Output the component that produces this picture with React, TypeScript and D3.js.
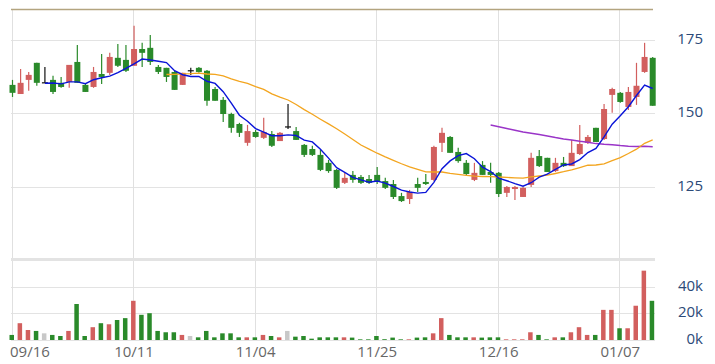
import React from 'react';
import * as d3 from 'd3';

// tick labels on the date axis (bar index -> label)
const tickIdx = [0, 15, 30, 45, 60, 75];
const tickLabels = ['09/16', '10/11', '11/04', '11/25', '12/16', '01/07'];
const priceTicks = [125, 150, 175];
const volTicks = [0, 20000, 40000];

const open = [
  159.7, 156.6, 161.4, 167.2, 160.4, 161.4, 160.4, 160.7, 167.5, 159.7,
  159.0, 163.4, 163.8, 168.9, 168.2, 166.2, 171.9, 172.3, 165.8, 165.5,
  164.1, 159.7, 164.5, 165.5, 164.5, 158.3, 154.6, 149.8, 146.4, 140.0,
  143.7, 141.7, 143.0, 140.6, 145.4, 144.0, 139.3, 137.9, 135.9, 133.2,
  130.8, 126.4, 129.1, 128.4, 127.7, 129.1, 127.0, 126.0, 121.9, 120.9,
  126.0, 126.7, 127.4, 140.0, 142.0, 136.9, 133.2, 127.4, 132.5, 130.1,
  129.8, 123.0, 124.3, 121.6, 125.7, 135.5, 134.9, 130.4, 133.2, 132.1,
  136.2, 140.0, 145.1, 141.3, 156.3, 157.0, 152.2, 155.6, 164.1, 168.9,
];
const high = [
  161.4, 165.1, 164.1, 167.2, 165.8, 162.8, 162.4, 166.5, 173.3, 160.0,
  165.8, 170.2, 170.6, 173.6, 173.3, 179.8, 174.0, 176.7, 166.5, 165.5,
  164.4, 163.8, 165.5, 165.8, 164.8, 159.0, 155.6, 150.2, 146.8, 146.1,
  144.4, 148.5, 144.0, 143.7, 153.2, 145.4, 139.6, 139.0, 137.6, 134.2,
  131.1, 129.8, 130.4, 129.1, 129.1, 131.8, 128.1, 127.4, 123.0, 124.0,
  128.1, 129.4, 139.0, 145.1, 142.3, 138.3, 134.2, 133.2, 133.8, 133.2,
  130.1, 125.3, 125.3, 125.0, 136.6, 137.6, 134.9, 134.9, 135.2, 141.0,
  146.1, 142.7, 145.1, 153.2, 158.7, 157.3, 159.0, 167.2, 174.0, 169.2,
];
const low = [
  155.6, 156.6, 157.7, 159.4, 160.4, 156.6, 158.7, 158.7, 160.4, 157.3,
  158.7, 160.0, 163.1, 165.8, 164.1, 166.2, 165.8, 166.5, 163.4, 160.7,
  158.0, 159.7, 163.1, 163.8, 152.6, 154.3, 147.1, 143.4, 142.0, 139.0,
  141.7, 141.3, 138.6, 140.6, 144.7, 141.0, 135.2, 135.5, 130.4, 129.8,
  124.3, 126.0, 126.4, 126.0, 126.0, 126.0, 124.3, 120.9, 119.9, 119.2,
  123.3, 125.7, 127.0, 136.9, 136.6, 133.2, 129.1, 127.0, 129.1, 126.4,
  121.6, 121.6, 120.6, 121.6, 125.0, 131.8, 130.1, 130.1, 131.8, 132.1,
  135.9, 139.6, 140.3, 141.0, 150.2, 153.6, 151.2, 152.9, 163.8, 152.6,
];
const close = [
  157.0, 160.4, 163.1, 160.4, 160.4, 157.3, 159.0, 166.5, 160.4, 157.3,
  164.1, 162.4, 169.2, 166.2, 164.5, 171.9, 170.6, 167.5, 164.1, 162.4,
  158.0, 163.8, 164.5, 164.1, 154.3, 154.3, 149.8, 145.1, 143.4, 144.0,
  142.0, 143.7, 139.0, 143.4, 145.4, 141.0, 135.9, 135.9, 130.8, 130.4,
  124.7, 128.1, 127.4, 126.4, 126.4, 126.7, 124.7, 121.6, 120.2, 123.3,
  124.7, 126.0, 138.6, 143.4, 136.6, 133.8, 129.4, 129.8, 129.1, 129.1,
  122.6, 125.0, 125.0, 124.7, 134.9, 132.1, 130.1, 133.2, 132.1, 136.6,
  139.6, 142.0, 140.3, 151.5, 158.3, 153.9, 157.3, 159.4, 169.2, 152.6,
];
const volume = [
  3800, 12600, 7500, 6800, 5000, 3800, 3000, 6800, 27000, 3000,
  9600, 12600, 11800, 15000, 16400, 29400, 18900, 20100, 6800, 5800,
  5800, 3800, 3000, 2000, 6800, 2000, 5000, 5000, 2000, 2000,
  2000, 3800, 3000, 2000, 6800, 2500, 3000, 1000, 2000, 2000,
  2000, 2000, 1800, 500, 500, 3000, 600, 1800, 500, 500,
  1800, 2000, 5000, 16400, 3800, 2000, 2000, 2000, 1800, 2000,
  2000, 500, 500, 500, 5800, 3800, 500, 2000, 2000, 5800,
  9600, 3800, 3800, 22600, 22600, 8800, 8800, 25700, 52000, 29400,
];

const UP = '#d25f5e';
const DOWN = '#2a8a2a';
const FLAT = '#c8c8c8';

const movingAvg = (n: number) =>
  close.map((_, i) => (i < n - 1 ? null : d3.mean(close.slice(i - n + 1, i + 1)) as number));

const ma5 = movingAvg(5);
const ma20 = movingAvg(20);
const ma60 = movingAvg(60);

export default function App() {
  const left = 11, right = 655;
  const x = d3.scaleLinear().domain([0, close.length - 1]).range([12.5, 652.7]);
  const y = d3.scaleLinear().domain([100.85, 185.5]).range([258, 9]);
  const yv = d3.scaleLinear().domain([0, 60000]).range([340, 260]);

  const maLine = d3.line<number | null>()
    .defined(d => d != null)
    .x((_, i) => x(i))
    .y(d => y(d as number));

  const font = '"Open Sans", sans-serif';

  return (
    <svg width={715} height={364} style={{ position: 'absolute', left: 0, top: 0 }}>
      <rect width={715} height={364} fill="#fff" />
      {/* grid */}
      {priceTicks.map(t => (
        <line key={'pg' + t} x1={left} x2={right} y1={Math.round(y(t)) + 0.5} y2={Math.round(y(t)) + 0.5} stroke="#e3e3e3" />
      ))}
      {volTicks.map(t => (
        <line key={'vg' + t} x1={left} x2={right} y1={Math.round(yv(t)) + 0.5} y2={Math.round(yv(t)) + 0.5} stroke="#e3e3e3" />
      ))}
      {tickIdx.map(i => {
        const gx = Math.round(x(i)) - 0.5;
        return (
          <g key={'vx' + i}>
            <line x1={gx} x2={gx} y1={9} y2={258} stroke="#e0e0e0" />
            <line x1={gx} x2={gx} y1={261} y2={340} stroke="#e0e0e0" />
          </g>
        );
      })}
      <rect x={left} y={258} width={right - left} height={3} fill="#e3e3e3" />
      <line x1={left} x2={653} y1={9.5} y2={9.5} stroke="#b3a47f" strokeWidth={1.5} />

      {/* volume */}
      {volume.map((v, i) => {
        const c = close[i] > open[i] ? UP : close[i] < open[i] ? DOWN : FLAT;
        return <rect key={'v' + i} x={x(i) - 3} y={yv(v)} width={4.5} height={yv(0) - yv(v)} fill={c} />;
      })}

      {/* candles */}
      {close.map((c, i) => {
        const o = open[i];
        const cx = x(i);
        if (c === o) {
          return (
            <g key={'c' + i} stroke="#111" strokeWidth={1.2}>
              <line x1={cx} x2={cx} y1={y(high[i])} y2={y(low[i])} />
              <line x1={cx - 3} x2={cx + 3} y1={y(o)} y2={y(o)} />
            </g>
          );
        }
        const col = c > o ? UP : DOWN;
        const top = y(Math.max(o, c));
        const h = Math.max(1, Math.abs(y(o) - y(c)));
        return (
          <g key={'c' + i}>
            <line x1={cx} x2={cx} y1={y(high[i])} y2={y(low[i])} stroke={col} strokeWidth={1.2} />
            <rect x={cx - 3} y={top} width={6} height={h} fill={col} />
          </g>
        );
      })}

      {/* moving averages */}
      <path d={maLine(ma60) || ''} fill="none" stroke="#9a35c8" strokeWidth={1.5} />
      <path d={maLine(ma20) || ''} fill="none" stroke="#f3a51f" strokeWidth={1.3} />
      <path d={maLine(ma5) || ''} fill="none" stroke="#0a14d8" strokeWidth={1.4} />

      {/* axis labels */}
      {priceTicks.map(t => (
        <text key={'pl' + t} x={703} y={y(t)} textAnchor="end" dominantBaseline="middle"
          fontFamily={font} fontSize={15} fill="#2c4a78">{t}</text>
      ))}
      {volTicks.map(t => (
        <text key={'vl' + t} x={703} y={yv(t)} textAnchor="end" dominantBaseline="middle"
          fontFamily={font} fontSize={15} fill="#2c4a78">{t / 1000 + 'k'}</text>
      ))}
      {tickIdx.map((i, k) => (
        <text key={'xl' + i} x={k === 0 ? 10 : x(i)} y={357} textAnchor={k === 0 ? 'start' : 'middle'}
          fontFamily={font} fontSize={15} fill="#666">{tickLabels[k]}</text>
      ))}
    </svg>
  );
}
